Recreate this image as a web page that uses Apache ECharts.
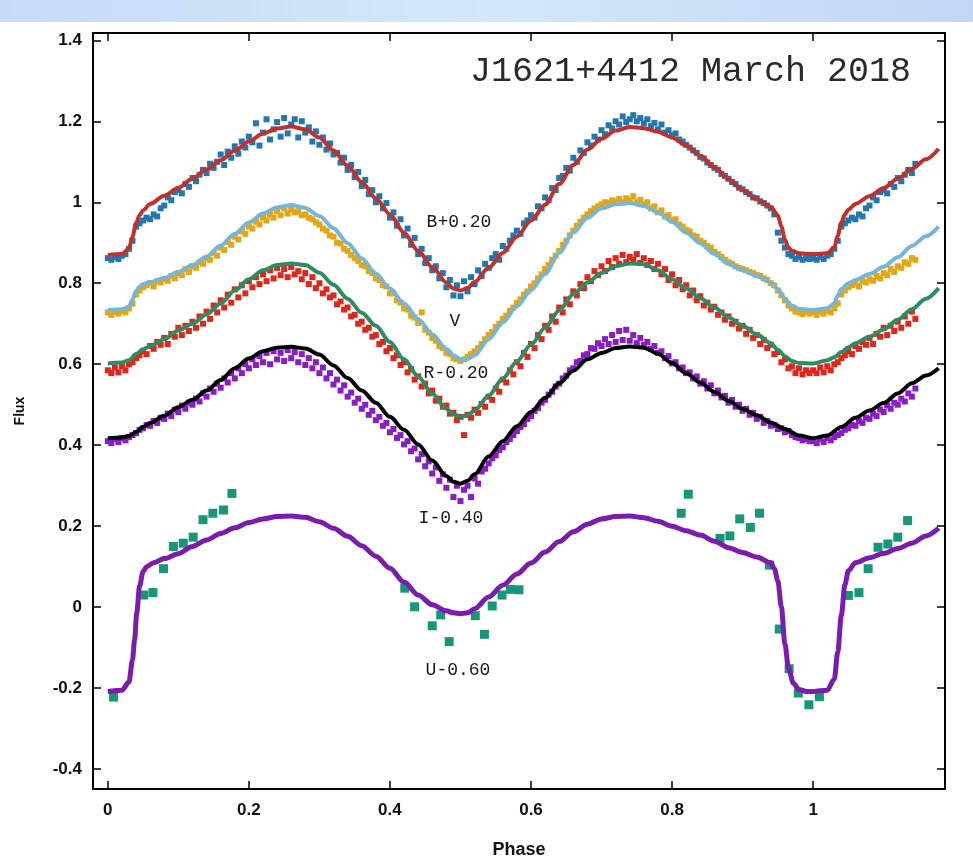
<!DOCTYPE html>
<html>
<head>
<meta charset="utf-8">
<script src="https://cdn.jsdelivr.net/npm/echarts@6/dist/echarts.min.js"></script>
<style>
  html, body { margin: 0; padding: 0; background: #ffffff; }
  #chart { width: 973px; height: 865px; }
</style>
</head>
<body>
<div id="chart"></div>
<script>
// Phase grid shared by the folded B, V, R and I photometry
const phaseGrid = [
  0,0.005,0.01,0.015,0.02,0.025,0.03,0.035,0.04,0.045,0.05,0.055,0.06,0.065,0.07,0.075,0.08,0.085,0.09,0.095,
  0.1,0.105,0.11,0.115,0.12,0.125,0.13,0.135,0.14,0.145,0.15,0.155,0.16,0.165,0.17,0.175,0.18,0.185,0.19,0.195,
  0.2,0.205,0.21,0.215,0.22,0.225,0.23,0.235,0.24,0.245,0.25,0.255,0.26,0.265,0.27,0.275,0.28,0.285,0.29,0.295,
  0.3,0.305,0.31,0.315,0.32,0.325,0.33,0.335,0.34,0.345,0.35,0.355,0.36,0.365,0.37,0.375,0.38,0.385,0.39,0.395,
  0.4,0.405,0.41,0.415,0.42,0.425,0.43,0.435,0.44,0.445,0.45,0.455,0.46,0.465,0.47,0.475,0.48,0.485,0.49,0.495,
  0.5,0.505,0.51,0.515,0.52,0.525,0.53,0.535,0.54,0.545,0.55,0.555,0.56,0.565,0.57,0.575,0.58,0.585,0.59,0.595,
  0.6,0.605,0.61,0.615,0.62,0.625,0.63,0.635,0.64,0.645,0.65,0.655,0.66,0.665,0.67,0.675,0.68,0.685,0.69,0.695,
  0.7,0.705,0.71,0.715,0.72,0.725,0.73,0.735,0.74,0.745,0.75,0.755,0.76,0.765,0.77,0.775,0.78,0.785,0.79,0.795,
  0.8,0.805,0.81,0.815,0.82,0.825,0.83,0.835,0.84,0.845,0.85,0.855,0.86,0.865,0.87,0.875,0.88,0.885,0.89,0.895,
  0.9,0.905,0.91,0.915,0.92,0.925,0.93,0.935,0.94,0.945,0.95,0.955,0.96,0.965,0.97,0.975,0.98,0.985,0.99,0.995
];

// B + 0.20 observations
const bFlux = [
  0.862,0.858,0.865,0.860,0.868,0.872,0.885,0.905,0.940,0.948,0.955,0.962,0.958,0.970,0.965,0.985,0.992,1.012,1.005,1.025,
  1.030,1.022,1.045,1.038,1.060,1.052,1.068,1.080,1.072,1.095,1.085,1.100,1.118,1.092,1.125,1.110,1.138,1.120,1.150,1.135,
  1.162,1.148,1.195,1.140,1.172,1.205,1.155,1.180,1.198,1.162,1.208,1.170,1.192,1.205,1.160,1.200,1.172,1.185,1.150,1.175,
  1.142,1.160,1.130,1.145,1.118,1.122,1.098,1.110,1.080,1.092,1.062,1.075,1.040,1.055,1.020,1.030,1.000,1.015,0.985,0.998,
  0.962,0.975,0.942,0.958,0.918,0.935,0.895,0.912,0.872,0.885,0.850,0.862,0.832,0.842,0.812,0.825,0.790,0.808,0.770,0.795,
  0.768,0.805,0.780,0.815,0.798,0.832,0.818,0.848,0.838,0.862,0.872,0.858,0.892,0.885,0.905,0.918,0.930,0.922,0.948,0.955,
  0.968,0.962,0.990,0.985,1.012,1.005,1.035,1.030,1.060,1.065,1.085,1.078,1.110,1.100,1.128,1.122,1.148,1.140,1.162,1.155,
  1.178,1.168,1.190,1.182,1.200,1.192,1.212,1.198,1.205,1.215,1.200,1.208,1.195,1.205,1.188,1.196,1.180,1.192,1.172,1.178,
  1.165,1.170,1.155,1.150,1.142,1.135,1.128,1.122,1.112,1.108,1.098,1.092,1.085,1.080,1.070,1.065,1.058,1.050,1.045,1.036,
  1.032,1.025,1.020,1.012,1.010,1.002,0.998,0.992,0.985,0.970,0.925,0.905,0.888,0.872,0.868,0.860,0.865,0.858,0.862,0.860
];

// V observations
const vFlux = [
  0.728,0.722,0.730,0.725,0.732,0.728,0.738,0.750,0.772,0.782,0.790,0.795,0.800,0.792,0.805,0.802,0.810,0.806,0.818,0.812,
  0.825,0.820,0.835,0.828,0.842,0.838,0.852,0.848,0.862,0.858,0.875,0.868,0.888,0.882,0.902,0.895,0.915,0.908,0.928,0.922,
  0.940,0.935,0.952,0.945,0.962,0.955,0.970,0.962,0.978,0.968,0.985,0.972,0.982,0.975,0.978,0.968,0.970,0.962,0.958,0.950,
  0.945,0.935,0.930,0.918,0.915,0.900,0.898,0.885,0.880,0.870,0.862,0.855,0.845,0.842,0.830,0.825,0.812,0.808,0.795,0.792,
  0.775,0.775,0.758,0.752,0.738,0.735,0.720,0.715,0.702,0.728,0.685,0.678,0.665,0.658,0.645,0.640,0.628,0.625,0.615,0.612,
  0.608,0.612,0.618,0.625,0.632,0.640,0.650,0.662,0.672,0.680,0.692,0.700,0.712,0.720,0.732,0.740,0.752,0.760,0.772,0.780,
  0.792,0.800,0.812,0.822,0.835,0.845,0.858,0.868,0.880,0.895,0.905,0.918,0.930,0.942,0.952,0.962,0.970,0.978,0.985,0.990,
  0.995,1.000,0.998,1.005,1.002,1.008,1.000,1.010,1.004,1.015,1.000,1.006,0.995,1.000,0.985,0.990,0.975,0.980,0.965,0.968,
  0.955,0.958,0.945,0.940,0.932,0.928,0.918,0.915,0.905,0.900,0.892,0.888,0.878,0.872,0.865,0.858,0.852,0.848,0.842,0.838,
  0.835,0.832,0.828,0.825,0.820,0.818,0.812,0.808,0.800,0.795,0.782,0.770,0.758,0.745,0.738,0.730,0.728,0.724,0.730,0.725
];

// R - 0.20 observations
const rFlux = [
  0.585,0.578,0.592,0.580,0.595,0.585,0.600,0.605,0.615,0.622,0.632,0.625,0.645,0.638,0.655,0.648,0.665,0.650,0.675,0.668,
  0.690,0.672,0.695,0.682,0.705,0.690,0.718,0.700,0.730,0.712,0.745,0.728,0.758,0.740,0.772,0.752,0.785,0.765,0.795,0.775,
  0.805,0.790,0.815,0.798,0.822,0.805,0.832,0.812,0.838,0.820,0.835,0.815,0.840,0.822,0.830,0.810,0.825,0.798,0.815,0.788,
  0.800,0.775,0.785,0.765,0.770,0.748,0.755,0.735,0.740,0.718,0.722,0.700,0.705,0.685,0.690,0.668,0.672,0.650,0.655,0.632,
  0.640,0.615,0.622,0.598,0.605,0.580,0.588,0.562,0.570,0.545,0.552,0.528,0.535,0.510,0.515,0.495,0.498,0.478,0.480,0.462,
  0.470,0.425,0.475,0.468,0.488,0.480,0.502,0.495,0.520,0.512,0.540,0.532,0.562,0.555,0.585,0.575,0.605,0.595,0.628,0.618,
  0.650,0.640,0.672,0.662,0.695,0.685,0.718,0.705,0.740,0.728,0.760,0.748,0.780,0.770,0.798,0.788,0.815,0.805,0.830,0.820,
  0.842,0.830,0.855,0.840,0.862,0.848,0.870,0.852,0.865,0.858,0.872,0.850,0.862,0.845,0.855,0.835,0.848,0.822,0.835,0.808,
  0.822,0.795,0.808,0.785,0.795,0.770,0.782,0.758,0.768,0.745,0.752,0.735,0.742,0.722,0.728,0.710,0.718,0.700,0.705,0.688,
  0.695,0.675,0.685,0.665,0.672,0.650,0.660,0.640,0.648,0.625,0.630,0.605,0.612,0.590,0.595,0.578,0.590,0.575,0.585,0.578
];

// I - 0.40 observations
const iFlux = [
  0.410,0.405,0.415,0.408,0.418,0.412,0.420,0.425,0.430,0.438,0.442,0.450,0.448,0.460,0.455,0.468,0.465,0.478,0.472,0.488,
  0.482,0.498,0.490,0.505,0.500,0.515,0.508,0.528,0.520,0.540,0.532,0.552,0.542,0.565,0.555,0.578,0.565,0.590,0.578,0.600,
  0.590,0.612,0.598,0.620,0.605,0.628,0.600,0.632,0.612,0.628,0.608,0.635,0.615,0.630,0.605,0.625,0.598,0.615,0.590,0.605,
  0.578,0.592,0.565,0.578,0.550,0.562,0.535,0.548,0.520,0.530,0.505,0.515,0.490,0.500,0.475,0.485,0.462,0.470,0.448,0.455,
  0.432,0.440,0.418,0.425,0.402,0.410,0.385,0.392,0.365,0.378,0.348,0.360,0.330,0.345,0.312,0.328,0.295,0.315,0.272,0.300,
  0.262,0.290,0.300,0.272,0.318,0.305,0.335,0.342,0.355,0.368,0.375,0.388,0.395,0.408,0.415,0.425,0.435,0.445,0.452,0.465,
  0.472,0.485,0.492,0.505,0.512,0.525,0.532,0.545,0.552,0.565,0.572,0.585,0.590,0.605,0.608,0.622,0.625,0.640,0.638,0.652,
  0.645,0.662,0.650,0.672,0.655,0.682,0.660,0.685,0.658,0.672,0.652,0.665,0.648,0.655,0.638,0.645,0.628,0.632,0.615,0.620,
  0.602,0.605,0.590,0.592,0.578,0.580,0.565,0.570,0.552,0.558,0.540,0.548,0.528,0.535,0.518,0.522,0.505,0.512,0.495,0.500,
  0.485,0.490,0.475,0.480,0.465,0.470,0.455,0.460,0.448,0.450,0.440,0.442,0.432,0.435,0.425,0.420,0.418,0.412,0.415,0.410
];

// U - 0.60 observations (phase, flux)
const uPoints = [
  [0.008,-0.222],[0.051,0.030],[0.064,0.036],[0.079,0.095],[0.093,0.150],[0.107,0.158],[0.121,0.173],
  [0.135,0.216],[0.149,0.232],[0.164,0.240],[0.176,0.281],[0.421,0.047],[0.435,0.001],[0.460,-0.046],
  [0.472,-0.019],[0.484,-0.085],[0.521,-0.021],[0.534,-0.067],[0.545,0.003],[0.559,0.030],[0.571,0.044],
  [0.583,0.043],[0.813,0.232],[0.823,0.279],[0.868,0.170],[0.882,0.176],[0.896,0.218],[0.911,0.197],
  [0.924,0.232],[0.938,0.104],[0.952,-0.054],[0.966,-0.152],[0.979,-0.212],[0.994,-0.241],[1.009,-0.221],
  [1.050,0.029],[1.065,0.036],[1.078,0.095],[1.092,0.148],[1.106,0.156],[1.120,0.173],[1.134,0.214]
];

// Synthetic light-curve fits (phase, flux)
const bFit = [[0,0.870],[0.02,0.872],[0.03,0.886],[0.035,0.915],[0.04,0.948],[0.045,0.968],[0.05,0.980],[0.06,0.996],[0.08,1.016],[0.10,1.036],[0.12,1.058],[0.14,1.081],[0.16,1.104],[0.18,1.127],[0.20,1.150],[0.22,1.170],[0.24,1.182],[0.26,1.187],[0.28,1.180],[0.30,1.160],[0.32,1.128],[0.34,1.090],[0.36,1.050],[0.38,1.010],[0.40,0.970],[0.42,0.925],[0.44,0.880],[0.46,0.840],[0.48,0.802],[0.49,0.787],[0.50,0.782],[0.51,0.788],[0.52,0.803],[0.54,0.838],[0.56,0.875],[0.58,0.915],[0.60,0.955],[0.62,0.994],[0.64,1.045],[0.66,1.092],[0.68,1.130],[0.70,1.157],[0.72,1.177],[0.74,1.186],[0.76,1.183],[0.78,1.174],[0.80,1.160],[0.82,1.140],[0.84,1.115],[0.86,1.087],[0.88,1.057],[0.90,1.030],[0.92,1.008],[0.94,0.988],[0.95,0.968],[0.955,0.940],[0.96,0.908],[0.965,0.888],[0.97,0.880],[0.98,0.874],[1.00,0.872],[1.02,0.874],[1.03,0.888],[1.035,0.918],[1.04,0.950],[1.045,0.970],[1.05,0.982],[1.06,0.996],[1.08,1.015],[1.10,1.035],[1.12,1.058],[1.14,1.082],[1.16,1.106],[1.178,1.132]];
const vFit = [[0,0.734],[0.02,0.736],[0.03,0.742],[0.035,0.760],[0.04,0.780],[0.045,0.792],[0.05,0.798],[0.06,0.803],[0.08,0.813],[0.10,0.828],[0.12,0.845],[0.14,0.866],[0.16,0.893],[0.18,0.922],[0.20,0.950],[0.22,0.972],[0.24,0.987],[0.26,0.993],[0.28,0.986],[0.30,0.966],[0.32,0.936],[0.34,0.899],[0.36,0.862],[0.38,0.824],[0.40,0.787],[0.42,0.750],[0.44,0.712],[0.46,0.674],[0.48,0.638],[0.49,0.622],[0.50,0.612],[0.51,0.613],[0.52,0.622],[0.54,0.662],[0.56,0.703],[0.58,0.743],[0.60,0.783],[0.62,0.823],[0.64,0.875],[0.66,0.925],[0.68,0.962],[0.70,0.985],[0.72,0.995],[0.74,0.998],[0.76,0.991],[0.78,0.975],[0.80,0.952],[0.82,0.925],[0.84,0.899],[0.86,0.872],[0.88,0.848],[0.90,0.832],[0.92,0.818],[0.94,0.802],[0.95,0.786],[0.96,0.762],[0.97,0.745],[0.98,0.737],[1.00,0.734],[1.02,0.738],[1.03,0.750],[1.035,0.770],[1.04,0.786],[1.05,0.800],[1.06,0.808],[1.08,0.823],[1.10,0.841],[1.12,0.864],[1.14,0.892],[1.16,0.916],[1.178,0.940]];
const rFit = [[0,0.602],[0.02,0.604],[0.03,0.610],[0.04,0.625],[0.05,0.637],[0.06,0.645],[0.08,0.662],[0.10,0.683],[0.12,0.700],[0.14,0.723],[0.16,0.750],[0.18,0.782],[0.20,0.810],[0.22,0.832],[0.24,0.845],[0.26,0.849],[0.28,0.845],[0.30,0.826],[0.32,0.796],[0.34,0.762],[0.36,0.727],[0.38,0.695],[0.40,0.655],[0.42,0.612],[0.44,0.570],[0.46,0.527],[0.48,0.490],[0.49,0.476],[0.50,0.470],[0.51,0.474],[0.52,0.486],[0.54,0.522],[0.56,0.565],[0.58,0.607],[0.60,0.648],[0.62,0.690],[0.64,0.733],[0.66,0.773],[0.68,0.802],[0.70,0.825],[0.72,0.842],[0.74,0.849],[0.76,0.847],[0.78,0.832],[0.80,0.810],[0.82,0.787],[0.84,0.763],[0.86,0.740],[0.88,0.716],[0.90,0.695],[0.92,0.674],[0.94,0.652],[0.95,0.636],[0.96,0.620],[0.97,0.608],[0.98,0.603],[1.00,0.602],[1.02,0.610],[1.03,0.617],[1.04,0.630],[1.05,0.642],[1.06,0.652],[1.08,0.668],[1.10,0.686],[1.12,0.710],[1.14,0.736],[1.16,0.762],[1.178,0.788]];
const iFit = [[0,0.417],[0.02,0.419],[0.03,0.423],[0.04,0.432],[0.05,0.445],[0.06,0.455],[0.08,0.473],[0.10,0.494],[0.12,0.512],[0.14,0.535],[0.16,0.561],[0.18,0.590],[0.20,0.614],[0.22,0.632],[0.24,0.641],[0.26,0.643],[0.28,0.639],[0.30,0.624],[0.32,0.597],[0.34,0.566],[0.36,0.535],[0.38,0.505],[0.40,0.470],[0.42,0.438],[0.44,0.402],[0.46,0.362],[0.48,0.324],[0.49,0.310],[0.50,0.305],[0.51,0.312],[0.52,0.328],[0.54,0.372],[0.56,0.410],[0.58,0.447],[0.60,0.482],[0.62,0.517],[0.64,0.553],[0.66,0.584],[0.68,0.612],[0.70,0.628],[0.72,0.640],[0.74,0.644],[0.76,0.641],[0.78,0.626],[0.80,0.603],[0.82,0.578],[0.84,0.555],[0.86,0.532],[0.88,0.510],[0.90,0.490],[0.92,0.474],[0.94,0.456],[0.96,0.440],[0.98,0.424],[1.00,0.417],[1.02,0.424],[1.04,0.445],[1.06,0.468],[1.08,0.486],[1.10,0.504],[1.12,0.528],[1.14,0.553],[1.16,0.572],[1.178,0.590]];
const uFit = [[0,-0.208],[0.02,-0.205],[0.03,-0.185],[0.035,-0.13],[0.038,-0.08],[0.041,-0.015],[0.045,0.052],[0.05,0.088],[0.055,0.100],[0.065,0.110],[0.08,0.120],[0.10,0.132],[0.12,0.150],[0.14,0.166],[0.16,0.182],[0.18,0.196],[0.20,0.209],[0.22,0.218],[0.24,0.224],[0.26,0.225],[0.28,0.222],[0.30,0.211],[0.32,0.195],[0.34,0.175],[0.36,0.152],[0.38,0.126],[0.40,0.096],[0.42,0.062],[0.44,0.030],[0.46,0.006],[0.48,-0.009],[0.49,-0.014],[0.50,-0.016],[0.51,-0.014],[0.52,-0.004],[0.54,0.025],[0.56,0.054],[0.58,0.082],[0.60,0.109],[0.62,0.136],[0.64,0.162],[0.66,0.186],[0.68,0.205],[0.70,0.218],[0.72,0.224],[0.74,0.225],[0.76,0.221],[0.78,0.212],[0.80,0.200],[0.82,0.189],[0.84,0.178],[0.86,0.163],[0.88,0.147],[0.90,0.135],[0.92,0.124],[0.94,0.110],[0.945,0.095],[0.95,0.065],[0.955,0.000],[0.96,-0.090],[0.965,-0.150],[0.972,-0.188],[0.98,-0.203],[0.99,-0.208],[1.00,-0.208],[1.02,-0.205],[1.03,-0.178],[1.035,-0.110],[1.04,-0.020],[1.045,0.055],[1.05,0.090],[1.06,0.110],[1.08,0.122],[1.10,0.133],[1.12,0.145],[1.14,0.158],[1.16,0.176],[1.178,0.195]];

// Axis tick values and band captions
const phaseTicks = [0, 0.2, 0.4, 0.6, 0.8, 1];
const fluxTicks = [-0.4, -0.2, 0, 0.2, 0.4, 0.6, 0.8, 1, 1.2, 1.4];
const chartTitle = 'J1621+4412 March 2018';
const bandCaptions = ['B+0.20', 'V', 'R-0.20', 'I-0.40', 'U-0.60'];

// Folded photometry: the first 0.15 in phase is shown again after phase 1
function foldedPoints(flux) {
  const pts = phaseGrid.map((p, i) => [p, flux[i]]);
  phaseGrid.forEach((p, i) => { if (p < 0.15) pts.push([+(p + 1).toFixed(3), flux[i]]); });
  return pts;
}

const chart = echarts.init(document.getElementById('chart'), null, { renderer: 'canvas' });

const tickFont = { fontFamily: 'Liberation Sans', fontSize: 17, fontWeight: 'bold', color: '#111' };
const frameLine = { show: true, onZero: false, lineStyle: { color: '#000', width: 2 } };
const tickStyle = { color: '#000', width: 1.5 };

function scatter(name, data, color, size) {
  return { name, type: 'scatter', data, symbol: 'rect', symbolSize: size,
           itemStyle: { color, opacity: 1 }, silent: true, animation: false };
}
function fit(name, data, color, width) {
  return { name, type: 'line', data, showSymbol: false, smooth: 0.3, smoothMonotone: 'x',
           lineStyle: { color, width }, silent: true, animation: false };
}

const captionPos = [[459, 222], [455, 321], [456, 373], [451, 518], [458, 670]];

chart.setOption({
  backgroundColor: '#ffffff',
  animation: false,
  grid: { left: 93, right: 28, top: 33, bottom: 76 },
  xAxis: [
    { type: 'value', position: 'bottom', min: -0.021, max: 1.187,
      name: 'Phase', nameLocation: 'middle', nameGap: 52,
      nameTextStyle: { fontFamily: 'Liberation Sans', fontSize: 18, fontWeight: 'bold', color: '#111' },
      axisLine: frameLine,
      axisTick: { show: true, inside: true, length: 8, customValues: phaseTicks, lineStyle: tickStyle },
      axisLabel: Object.assign({ show: true, margin: 13, customValues: phaseTicks }, tickFont),
      splitLine: { show: false } },
    { type: 'value', position: 'top', min: -0.021, max: 1.187,
      axisLine: frameLine,
      axisTick: { show: true, inside: true, length: 8, customValues: phaseTicks, lineStyle: tickStyle },
      axisLabel: { show: false }, splitLine: { show: false } }
  ],
  yAxis: [
    { type: 'value', position: 'left', min: -0.449, max: 1.418,
      name: 'Flux', nameLocation: 'middle', nameGap: 66, nameRotate: 90,
      nameTextStyle: { fontFamily: 'Liberation Sans', fontSize: 14, fontWeight: 'bold', color: '#111' },
      axisLine: frameLine,
      axisTick: { show: true, inside: true, length: 8, customValues: fluxTicks, lineStyle: tickStyle },
      axisLabel: Object.assign({ show: true, margin: 11, customValues: fluxTicks }, tickFont),
      splitLine: { show: false } },
    { type: 'value', position: 'right', min: -0.449, max: 1.418,
      axisLine: frameLine,
      axisTick: { show: true, inside: true, length: 8, customValues: fluxTicks, lineStyle: tickStyle },
      axisLabel: { show: false }, splitLine: { show: false } }
  ],
  series: [
    scatter('B+0.20', foldedPoints(bFlux), '#2277b0', 6),
    scatter('V', foldedPoints(vFlux), '#e3a617', 6),
    scatter('R-0.20', foldedPoints(rFlux), '#e3261a', 6),
    scatter('I-0.40', foldedPoints(iFlux), '#8a1cc8', 6),
    fit('B fit', bFit, '#c2302c', 4),
    fit('V fit', vFit, '#74b6d8', 4),
    fit('R fit', rFit, '#2c8c62', 4),
    fit('I fit', iFit, '#000000', 4),
    fit('U fit', uFit, '#7a1cae', 5),
    scatter('U-0.60', uPoints, '#17967a', 9)
  ],
  graphic: [
    { type: 'rect', z: -10, shape: { x: 0, y: 0, width: 973, height: 22 },
      style: { fill: new echarts.graphic.LinearGradient(0, 0, 1, 0, [
        { offset: 0, color: '#c4dcf6' }, { offset: 0.5, color: '#d4e6f9' }, { offset: 1, color: '#c0d8f4' }]) } },
    { type: 'text', x: 470, y: 72, z: 20,
      style: { text: chartTitle, font: '35px "Liberation Mono"', fill: '#2a2a2a',
               align: 'left', verticalAlign: 'middle', textAlign: 'left', textVerticalAlign: 'middle' } }
  ].concat(bandCaptions.map((t, k) => ({
    type: 'text', x: captionPos[k][0], y: captionPos[k][1], z: 20,
    style: { text: t, font: '18px "Liberation Mono"', fill: '#1a1a1a',
             align: 'center', verticalAlign: 'middle', textAlign: 'center', textVerticalAlign: 'middle' }
  })))
});
</script>
</body>
</html>
